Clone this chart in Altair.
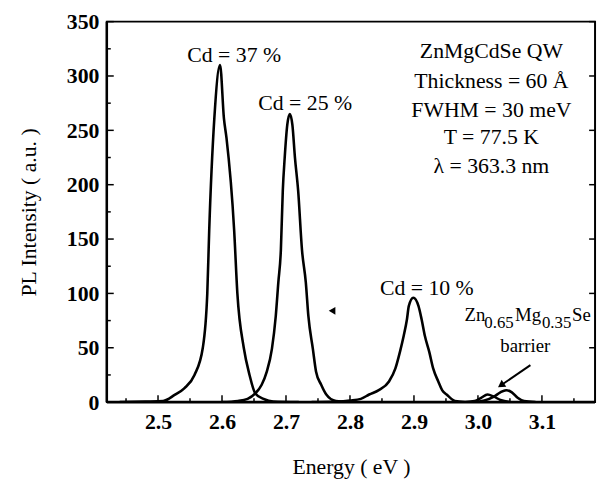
import altair as alt
import pandas as pd

# ---- data ----
cd37_x = [2.44, 2.48, 2.508, 2.526, 2.541, 2.557, 2.570, 2.577, 2.580, 2.588, 2.597, 2.603, 2.607, 2.619, 2.624, 2.634, 2.643, 2.652, 2.665, 2.68, 2.72]
cd37_y = [0, 0.5, 1, 6.6, 12.7, 25, 50, 100, 158, 261, 310, 261, 243, 158, 100, 50, 25, 8, 3, 0.5, 0]

cd25_x = [2.60, 2.625, 2.64, 2.652, 2.662, 2.670, 2.678, 2.684, 2.688, 2.692, 2.695, 2.698, 2.702, 2.706, 2.710, 2.714, 2.719, 2.725, 2.731, 2.735, 2.742, 2.747, 2.755, 2.763, 2.778, 2.80]
cd25_y = [0, 1, 3, 8, 16, 28, 49, 79, 110, 140, 194.5, 225, 255, 265, 255, 225, 194.5, 140, 110, 79, 49, 28, 16, 7, 1, 0]

cd10_x = [2.74, 2.78, 2.80, 2.817, 2.830, 2.845, 2.861, 2.871, 2.878, 2.884, 2.889, 2.892, 2.899, 2.907, 2.912, 2.917, 2.924, 2.930, 2.938, 2.944, 2.951, 2.964, 2.98]
cd10_y = [0, 0.5, 1.5, 3, 7, 11, 19, 31, 46, 61, 76, 88.5, 96, 88.5, 76, 61, 46, 31, 19, 11, 7, 1, 0]

bar_x = [2.99, 3.01, 3.025, 3.035, 3.044, 3.053, 3.062, 3.072, 3.09]
bar_y = [0, 1.5, 5, 9, 11, 9, 4, 1, 0]

bar2_x = [2.98, 2.995, 3.005, 3.015, 3.025, 3.035, 3.05]
bar2_y = [0, 1, 4, 7, 5, 2, 0]

x_major = [2.5, 2.6, 2.7, 2.8, 2.9, 3.0, 3.1]
x_minor = [2.45, 2.55, 2.65, 2.75, 2.85, 2.95, 3.05, 3.15]
y_major = [0, 50, 100, 150, 200, 250, 300, 350]
y_minor = [25, 75, 125, 175, 225, 275, 325]

ann_text = ["Cd = 37 %", "Cd = 25 %", "Cd = 10 %",
            "ZnMgCdSe QW", "Thickness = 60 Å", "FWHM = 30 meV", "T = 77.5 K", "λ = 363.3 nm"]
ann_x = [2.619, 2.730, 2.920, 3.021, 3.021, 3.021, 3.021, 3.021]
ann_y = [313, 269, 98.5, 316.4, 288.5, 262.7, 237, 211]

zn_text = ["Zn", "Mg", "Se"]
zn_x = [2.979, 3.058, 3.147]
zn_y = [74.8, 74.8, 74.8]
sub_text = ["0.65", "0.35"]
sub_x = [3.010, 3.100]
sub_y = [68, 68]

barrier_text = ["barrier"]
barrier_x = [3.074]
barrier_y = [46]

arrow_x = [3.082]
arrow_y = [34]
arrow_x2 = [3.036]
arrow_y2 = [15.5]

blob_x = [2.772]
blob_y = [84]

FONT = "Liberation Serif"

rows = []
for name, xs_, ys_ in [("37", cd37_x, cd37_y), ("25", cd25_x, cd25_y), ("10", cd10_x, cd10_y),
                       ("bar", bar_x, bar_y), ("bar2", bar2_x, bar2_y)]:
    for a, b in zip(xs_, ys_):
        rows.append({"energy": a, "intensity": b, "series": name})
curves = pd.DataFrame(rows)

axis_style = dict(domain=False, ticks=False, grid=False,
                  labelFont=FONT, labelFontSize=22, labelFontWeight="bold", labelColor="black",
                  titleFont=FONT, titleFontSize=22, titleFontWeight="normal", titleColor="black")

xs = alt.Scale(domain=[2.42, 3.183], nice=False, zero=False)
ys = alt.Scale(domain=[0, 350], nice=False)
xaxis = alt.Axis(values=x_major, format=".1f", title="Energy ( eV )", labelPadding=10, titlePadding=24, **axis_style)
yaxis = alt.Axis(values=y_major, title="PL Intensity ( a.u. )", labelPadding=8, titlePadding=26, **axis_style)

def X(field):
    return alt.X(field, scale=xs, axis=xaxis, title="Energy ( eV )")

def Y(field):
    return alt.Y(field, scale=ys, axis=yaxis, title="PL Intensity ( a.u. )")

lines = alt.Chart(curves).mark_line(color="black", strokeWidth=2.6, interpolate="monotone", clip=True).encode(
    x=X("energy:Q"), y=Y("intensity:Q"), detail="series:N",
)

frame = alt.Chart(pd.DataFrame({"energy": [2.42]})).mark_rect(fill=None, stroke="black", strokeWidth=2).encode(
    x=alt.value(0), x2=alt.value(494), y=alt.value(0), y2=alt.value(385))
bottom_line = alt.Chart(pd.DataFrame({"energy": [2.42]})).mark_rule(color="black", strokeWidth=3).encode(
    x=alt.value(0), x2=alt.value(494), y=alt.value(385))
left_line = alt.Chart(pd.DataFrame({"energy": [2.42]})).mark_rule(color="black", strokeWidth=2.5).encode(
    x=alt.value(0), y=alt.value(0), y2=alt.value(385))

def xticks(vals, length):
    return alt.Chart(pd.DataFrame({"energy": vals})).mark_rule(color="black", strokeWidth=1.5).encode(
        x=X("energy:Q"), y=alt.value(385), y2=alt.value(385 - length))

def yticks(vals, length, right=False):
    x0 = 494 if right else 0
    x1 = 494 - length if right else length
    return alt.Chart(pd.DataFrame({"intensity": vals})).mark_rule(color="black", strokeWidth=1.5).encode(
        y=Y("intensity:Q"), x=alt.value(x0), x2=alt.value(x1))

def texts(t, xv, yv, size, align):
    return alt.Chart(pd.DataFrame({"t": t, "energy": xv, "intensity": yv})).mark_text(
        font=FONT, fontSize=size, color="black", align=align, baseline="alphabetic").encode(
        x=X("energy:Q"), y=Y("intensity:Q"), text="t:N")

ann = texts(ann_text, ann_x, ann_y, 22, "center")
zn = texts(zn_text, zn_x, zn_y, 19, "left")
sub = texts(sub_text, sub_x, sub_y, 17, "left")
barrier = texts(barrier_text, barrier_x, barrier_y, 19, "center")

arrow_df = pd.DataFrame({"energy": arrow_x, "intensity": arrow_y, "e2": arrow_x2, "i2": arrow_y2})
arrow = alt.Chart(arrow_df).mark_rule(color="black", strokeWidth=2).encode(
    x=X("energy:Q"), y=Y("intensity:Q"), x2="e2:Q", y2="i2:Q")
head = alt.Chart(pd.DataFrame({"energy": arrow_x2, "intensity": arrow_y2})).mark_point(
    shape="triangle-up", angle=236, size=70, filled=True, color="black", opacity=1).encode(
    x=X("energy:Q"), y=Y("intensity:Q"))

blob = alt.Chart(pd.DataFrame({"energy": blob_x, "intensity": blob_y})).mark_point(
    shape="triangle-left", size=60, filled=True, color="black", opacity=1).encode(
    x=X("energy:Q"), y=Y("intensity:Q"))

chart = alt.layer(
    lines,
    xticks(x_major, 7), xticks(x_minor, 4),
    yticks(y_major, 7), yticks(y_minor, 4),
    yticks(y_major, 6, right=True),
    ann, zn, sub, barrier, arrow, head, blob,
    frame, bottom_line, left_line,
).properties(
    width=494, height=385,
    background="white",
    autosize=alt.AutoSizeParams(type="none"),
    padding={"left": 100, "top": 11, "right": 4, "bottom": 75},
).configure_view(
    stroke=None
).configure_axis(**axis_style)

chart.save("out.html", embed_options={"renderer": "svg", "actions": False})
